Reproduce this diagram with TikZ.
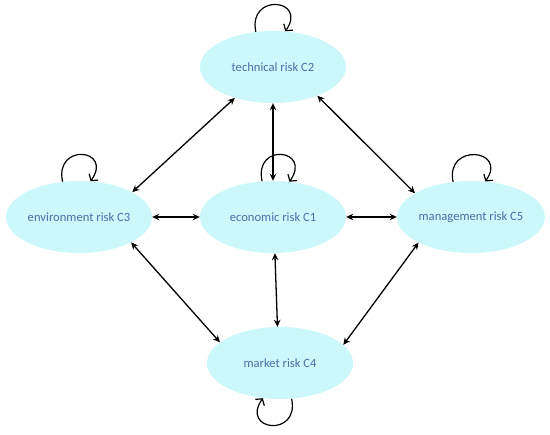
\documentclass[tikz,border=0pt]{standalone}
\usepackage{fontspec}
\setmainfont{Carlito}
\usetikzlibrary{arrows.meta,shapes.geometric}
\definecolor{riskfill}{RGB}{204,248,251}
\definecolor{risktext}{RGB}{74,112,168}
\begin{document}
\begin{tikzpicture}[x=1pt,y=-1pt,every node/.style={font=\fontsize{12.6}{15}\selectfont}]
    \tikzset{
      risk/.style={ellipse,fill=riskfill,text=risktext,minimum width=146pt,minimum height=72pt,inner sep=0pt},
      link/.style={black,line width=1.3pt,{Stealth[length=7pt,width=6.5pt]}-{Stealth[length=7pt,width=6.5pt]}},
      selfloop/.style={black,line width=1.2pt,-{Straight Barb[length=4.5pt,width=11pt]}}
    }
    \useasboundingbox (0,0) rectangle (550,435);
    \node[risk] (c2) at (273,67) {technical risk C2};
    \node[risk] (c1) at (273,217) {economic risk C1};
    \node[risk] (c3) at (79,217) {environment risk C3};
    \node[risk] (c5) at (471,217) {management risk C5};
    \node[risk] (c4) at (280,363) {market risk C4};
    % mutual influences
    \foreach \a/\b in {c3.25/c2.-141,c2.-33/c5.157,c3.-26/c4.161,c5.-154/c4.16,
                       c3.east/c1.west,c1.east/c5.west,c2.south/c1.north,c1.-87/c4.94} {
      \draw[link] (\a) -- (\b);
    }
    % self influences
    \foreach \n/\s/\e in {c2/116/71,c1/107/65,c3/115/72,c5/117/68} {
      \draw[selfloop] (\n.\s) to[out=102,in=55,distance=40pt] (\n.\e);
    }
    \draw[selfloop] (c4.-72) to[out=-78,in=-125,distance=40pt] (c4.-116);
  \end{tikzpicture}
\end{document}
